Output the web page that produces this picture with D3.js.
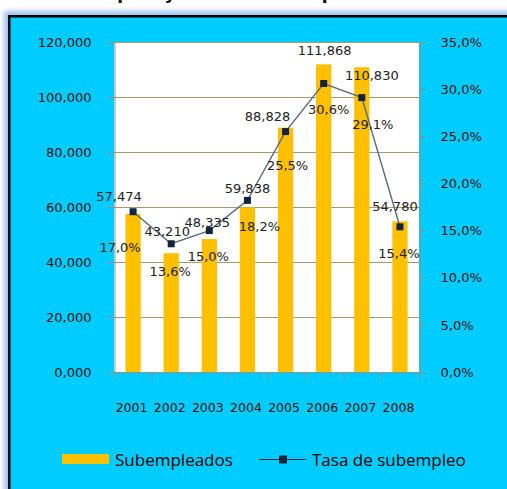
<!DOCTYPE html>
<html><head><meta charset="utf-8">
<script src="https://cdn.jsdelivr.net/npm/d3@7"></script>
<style>body{margin:0;background:#fff;overflow:hidden}svg{display:block}</style>
</head><body>
<script>
const years = ["2001","2002","2003","2004","2005","2006","2007","2008"];
const subempleados = [57474, 43210, 48335, 59838, 88828, 111868, 110830, 54780];
const tasa = [17.0, 13.6, 15.0, 18.2, 25.5, 30.6, 29.1, 15.4];
const leftTicks = [0, 20000, 40000, 60000, 80000, 100000, 120000];
const leftTickLabels = ["0,000","20,000","40,000","60,000","80,000","100,000","120,000"];
const rightTicks = [0, 5, 10, 15, 20, 25, 30, 35];
const rightTickLabels = ["0,0%","5,0%","10,0%","15,0%","20,0%","25,0%","30,0%","35,0%"];
const barLabels = ["57,474","43,210","48,335","59,838","88,828","111,868","110,830","54,780"];
const tasaLabels = ["17,0%","13,6%","15,0%","18,2%","25,5%","30,6%","29,1%","15,4%"];
const seriesNames = ["Subempleados","Tasa de subempleo"];
const title = "Subempleo y tasa de subempleo 2001 - 2008";

// layout-only label nudges (pixels), as placed in the original
const barLabelNudge = [[-14,-13],[-4,-17],[-2,-12],[0,-14],[-18,-7],[1,-9],[10,13],[-5,-10]];
const tasaLabelNudge = [[-13,40],[-1,32],[-1,30],[12,31],[2,38],[5,31],[11,31],[-1,31]];

const W = 507, H = 489;
const svg = d3.select("body").append("svg").attr("width", W).attr("height", H);
const defs = svg.append("defs");
const f = defs.append("filter").attr("id","blur").attr("x","-10%").attr("y","-10%").attr("width","130%").attr("height","130%");
f.append("feGaussianBlur").attr("stdDeviation", 2.5);

// title (cut off at the top edge, as in the original)
svg.append("text").attr("x", 267).attr("y", -1).attr("text-anchor","middle")
  .attr("font-family","DejaVu Sans").attr("font-weight","bold").attr("font-size",17)
  .attr("fill","#111").text(title);

// frame with glow
svg.append("rect").attr("x",4).attr("y",11).attr("width",620).attr("height",600)
  .attr("fill","#9cc2f0").attr("filter","url(#blur)");
svg.append("rect").attr("x",9.25).attr("y",16.25).attr("width",620).attr("height",600)
  .attr("fill","#00CCFF").attr("stroke","#000").attr("stroke-width",2.5);

const L = 114, R = 419, T = 42, B = 372;
const x = d3.scaleBand().domain(years).range([L, R]).paddingInner(0.6).paddingOuter(0.3);
const yL = d3.scaleLinear().domain([0, 120000]).range([B, T]);
const yR = d3.scaleLinear().domain([0, 35]).range([B, T]);

svg.append("rect").attr("x",L).attr("y",T).attr("width",R-L).attr("height",B-T).attr("fill","#fff");

// gridlines
svg.append("g").selectAll("line").data(leftTicks.slice(1)).join("line")
  .attr("x1",L).attr("x2",R).attr("y1",d=>Math.round(yL(d))+0.5).attr("y2",d=>Math.round(yL(d))+0.5)
  .attr("stroke","#a39b6a").attr("stroke-width",1);

// bars
svg.append("g").selectAll("rect").data(subempleados).join("rect")
  .attr("x",(d,i)=>x(years[i])).attr("width",x.bandwidth())
  .attr("y",d=>yL(d)).attr("height",d=>B-yL(d)).attr("fill","#FFC000");

// axes
const fontAxis = "DejaVu Sans";
const gL = svg.append("g").attr("transform",`translate(${L+0.5},0)`)
  .call(d3.axisLeft(yL).tickValues(leftTicks).tickFormat((d,i)=>leftTickLabels[i]).tickSize(7).tickPadding(16).tickSizeOuter(0));
const gR = svg.append("g").attr("transform",`translate(${R+0.5},0)`)
  .call(d3.axisRight(yR).tickValues(rightTicks).tickFormat((d,i)=>rightTickLabels[i]).tickSize(6).tickPadding(15).tickSizeOuter(0));
const boundaries = d3.range(years.length+1).map(i => L + i*x.step());
const gB = svg.append("g").attr("transform",`translate(0,${B+0.5})`)
  .call(d3.axisBottom(x).tickSize(0).tickPadding(31));
gB.selectAll(".tick").attr("transform", d => `translate(${x(d)+x.bandwidth()/2-1.5},0)`);
gB.selectAll("line.bt").data(boundaries).join("line").attr("class","bt")
  .attr("x1",d=>Math.round(d)+0.5).attr("x2",d=>Math.round(d)+0.5).attr("y1",0).attr("y2",6)
  .attr("stroke","#8f8f8f");
[gL,gR,gB].forEach(g=>{
  g.selectAll("path.domain").attr("stroke","#8f8f8f");
  g.selectAll(".tick line").attr("stroke","#8f8f8f");
  g.selectAll("text").attr("font-family",fontAxis).attr("font-size",13).attr("fill","#111");
});
gB.selectAll("text").attr("font-size",12.5);

// line
const cx = i => x(years[i]) + x.bandwidth()/2;
svg.append("path").datum(tasa)
  .attr("d", d3.line().x((d,i)=>cx(i)).y(d=>yR(d)))
  .attr("fill","none").attr("stroke","#5a6a80").attr("stroke-width",1.4);
svg.append("g").selectAll("rect").data(tasa).join("rect")
  .attr("x",(d,i)=>cx(i)-3.5).attr("y",d=>yR(d)-3.5).attr("width",7).attr("height",7)
  .attr("fill","#13233d");

// data labels
svg.append("g").selectAll("text").data(barLabels).join("text")
  .attr("x",(d,i)=>cx(i)+barLabelNudge[i][0]).attr("y",(d,i)=>yL(subempleados[i])+barLabelNudge[i][1])
  .attr("text-anchor","middle").attr("font-family","DejaVu Sans").attr("font-size",13)
  .attr("fill","#222").text(d=>d);
svg.append("g").selectAll("text").data(tasaLabels).join("text")
  .attr("x",(d,i)=>cx(i)+tasaLabelNudge[i][0]).attr("y",(d,i)=>yR(tasa[i])+tasaLabelNudge[i][1])
  .attr("text-anchor","middle").attr("font-family","DejaVu Sans").attr("font-size",13)
  .attr("fill","#222").text(d=>d);

// legend
const lg = svg.append("g");
lg.append("rect").attr("x",62).attr("y",454).attr("width",47).attr("height",10).attr("fill","#FFC000");
lg.append("text").attr("x",115).attr("y",466).attr("font-family","Open Sans").attr("font-size",17)
  .attr("fill","#000").text(seriesNames[0]);
lg.append("line").attr("x1",259).attr("x2",306).attr("y1",459.5).attr("y2",459.5)
  .attr("stroke","#13233d").attr("stroke-width",1.2);
lg.append("rect").attr("x",279).attr("y",455.5).attr("width",8).attr("height",8).attr("fill","#13233d");
lg.append("text").attr("x",312).attr("y",466).attr("font-family","Open Sans").attr("font-size",17)
  .attr("fill","#000").text(seriesNames[1]);
</script>
</body></html>
